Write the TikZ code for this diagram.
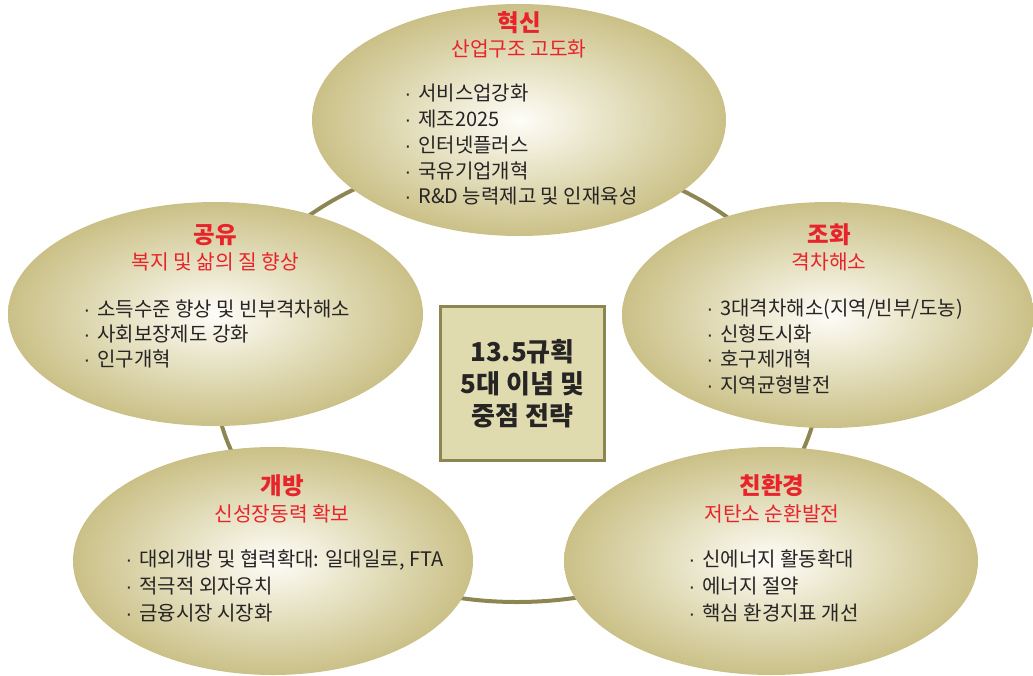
\documentclass[tikz,border=0pt]{standalone}
\usepackage{fontspec}
\setmainfont{Noto Sans CJK KR}
\newfontfamily\dotfont{Liberation Sans}
\usetikzlibrary{shapes.geometric}
\definecolor{ringc}{HTML}{8E8652}
\definecolor{boxfill}{HTML}{E0DBAF}
\definecolor{titlered}{HTML}{E8232B}
\definecolor{txt}{HTML}{262424}
\definecolor{gIn}{HTML}{FEFDF8}
\definecolor{gMid}{HTML}{E5E0C0}
\definecolor{gOut}{HTML}{CAC087}
\pgfdeclareradialshading{goldglow}{\pgfpoint{0bp}{0bp}}{color(0bp)=(gIn); color(12bp)=(gMid); color(25bp)=(gOut); color(50bp)=(gOut)}
\newcommand{\bdot}{{\dotfont ·}\hspace{7pt}}
\tikzset{
  blob/.style={ellipse, inner sep=0pt, draw=none, shading=goldglow},
  ttl/.style={inner sep=0pt, text=titlered, font=\fontsize{23.5}{28}\selectfont\bfseries},
  sub/.style={inner sep=0pt, text=titlered, font=\fontsize{20.3}{24}\selectfont},
  items/.style={inner sep=0pt, anchor=west, align=left, text=txt, font=\fontsize{20}{#1}\selectfont},
  corebox/.style={draw=ringc, line width=3pt, fill=boxfill, inner sep=0pt, text=txt, align=center, font=\fontsize{26}{32}\selectfont\bfseries},
}
\begin{document}
\begin{tikzpicture}[x=1pt, y=-1pt]
\useasboundingbox (0,0) rectangle (1033,675);
% ring
\coordinate (ringctr) at (517,378);
\draw[ringc, line width=4pt] (ringctr) ellipse [x radius=302pt, y radius=224pt];
% ellipses
\node[blob, minimum width=414pt, minimum height=232pt] (inno) at (519,120) {};
\node[blob, minimum width=415pt, minimum height=224pt] (share) at (215.5,314) {};
\node[blob, minimum width=412pt, minimum height=226pt] (harm) at (828,315) {};
\node[blob, minimum width=400pt, minimum height=228pt] (open) at (273,561) {};
\node[blob, minimum width=414pt, minimum height=228pt] (green) at (771,561) {};
% centre box
\node[corebox, minimum width=164pt, minimum height=154pt] (core) at (522.5,383.5) {13.5규획\\5대 이념 및\\중점 전략};
% top
\node[ttl] (innoT) at (519,23) {혁신};
\node[sub] (innoS) at (519,49) {산업구조 고도화};
\node[items=25.75] (innoL) at (404.5,145) {\bdot 서비스업강화\\\bdot 제조2025\\\bdot 인터넷플러스\\\bdot 국유기업개혁\\\bdot R\&D 능력제고 및 인재육성};
% left
\node[ttl] (shareT) at (215.5,235) {공유};
\node[sub] (shareS) at (215.5,262) {복지 및 삶의 질 향상};
\node[items=25] (shareL) at (83.5,333.5) {\bdot 소득수준 향상 및 빈부격차해소\\\bdot 사회보장제도 강화\\\bdot 인구개혁};
% right
\node[ttl] (harmT) at (829,235) {조화};
\node[sub] (harmS) at (829,262) {격차해소};
\node[items=25.7] (harmL) at (706.5,346.5) {\bdot 3대격차해소(지역/빈부/도농)\\\bdot 신형도시화\\\bdot 호구제개혁\\\bdot 지역균형발전};
% bottom left
\node[ttl] (openT) at (282,486) {개방};
\node[sub] (openS) at (282,514) {신성장동력 확보};
\node[items=26.75] (openL) at (125.5,586) {\bdot 대외개방 및 협력확대: 일대일로, FTA\\\bdot 적극적 외자유치\\\bdot 금융시장 시장화};
% bottom right
\node[ttl] (greenT) at (772,486) {친환경};
\node[sub] (greenS) at (772,514) {저탄소 순환발전};
\node[items=26.75] (greenL) at (688.5,586) {\bdot 신에너지 활동확대\\\bdot 에너지 절약\\\bdot 핵심 환경지표 개선};
\end{tikzpicture}
\end{document}
